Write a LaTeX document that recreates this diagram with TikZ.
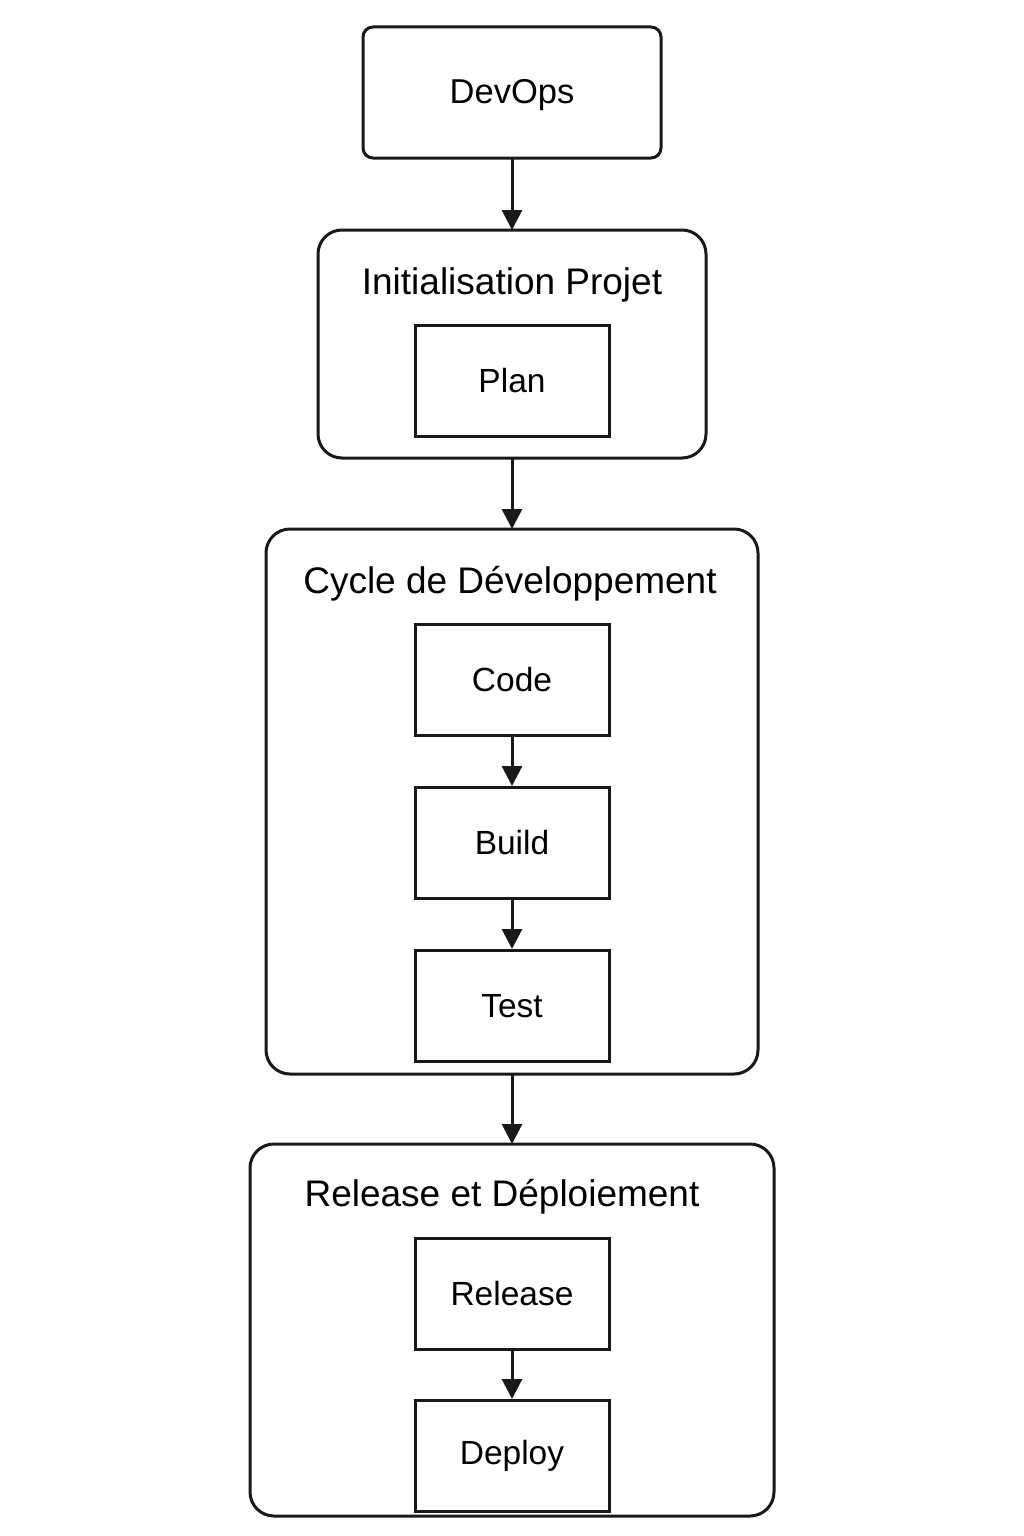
\documentclass[tikz,border=0pt]{standalone}
\usepackage{fontspec}
\setmainfont{Liberation Sans}
\usetikzlibrary{arrows.meta}
\begin{document}
\begin{tikzpicture}[x=1pt,y=-1pt,
  stepbox/.style={draw=black!90,line width=3pt,minimum width=194pt,minimum height=111pt,inner sep=0pt,font=\fontsize{33.5}{40}\selectfont},
  groupbox/.style={draw=black!90,line width=3pt,rounded corners=24pt},
  titletext/.style={font=\fontsize{37}{44}\selectfont,anchor=base},
  conn/.style={line width=3pt,draw=black!90,-{Triangle[length=20pt,width=20pt]}}]
\useasboundingbox (0,0) rectangle (1024,1536);
% DevOps
\draw[draw=black!90,line width=3pt,rounded corners=10pt] (363,27) rectangle (661,158);
\node[inner sep=0pt,font=\fontsize{34.5}{41}\selectfont] (devops) at (512,95) {DevOps};
\coordinate (dvbot) at (512,158);
% Group 1
\draw[groupbox] (318,230) rectangle (706,458);
\coordinate (g1top) at (512,230);
\coordinate (g1bot) at (512,458);
\node[titletext] (t1) at (512,294) {Initialisation Projet};
\node[stepbox] (plan) at (512,381) {Plan};
% Group 2
\draw[groupbox] (266,529) rectangle (758,1074);
\coordinate (g2top) at (512,529);
\coordinate (g2bot) at (512,1074);
\node[titletext] (t2) at (510,593) {Cycle de Développement};
\node[stepbox] (code) at (512,679.5) {Code};
\node[stepbox] (build) at (512,843) {Build};
\node[stepbox] (test) at (512,1006) {Test};
% Group 3
\draw[groupbox] (250,1144) rectangle (774,1516);
\coordinate (g3top) at (512,1144);
\node[titletext] (t3) at (502,1206) {Release et Déploiement};
\node[stepbox] (release) at (512,1294) {Release};
\node[stepbox] (deploy) at (512,1456) {Deploy};
% connectors
\draw[conn] (dvbot) -- (g1top);
\draw[conn] (g1bot) -- (g2top);
\draw[conn] (code.south) -- (build.north);
\draw[conn] (build.south) -- (test.north);
\draw[conn] (g2bot) -- (g3top);
\draw[conn] (release.south) -- (deploy.north);
\end{tikzpicture}
\end{document}
